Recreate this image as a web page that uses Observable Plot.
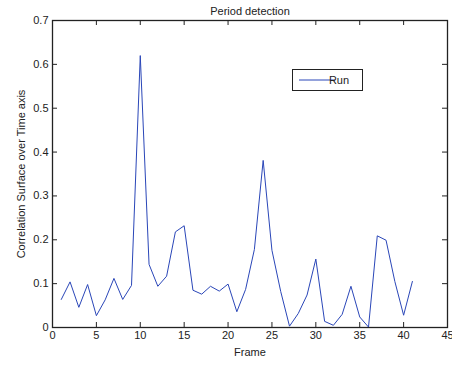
<!DOCTYPE html>
<html><head><meta charset="utf-8">
<script src="https://cdn.jsdelivr.net/npm/d3@7"></script>
<script src="https://cdn.jsdelivr.net/npm/@observablehq/plot@0.6"></script>
<style>body{margin:0;background:#fff}</style>
</head><body><div id="chart"></div>
<script>
const frames = d3.range(1, 42);
const values = [0.064,0.104,0.046,0.098,0.027,0.063,0.112,0.064,0.096,0.62,
0.144,0.094,0.117,0.218,0.232,0.085,0.076,0.094,0.083,0.099,
0.036,0.087,0.178,0.381,0.176,0.082,0.003,0.032,0.074,0.156,
0.014,0.005,0.030,0.094,0.024,0.001,0.209,0.199,0.105,0.028,0.105];
const xTicks = [0,5,10,15,20,25,30,35,40,45];
const yTicks = [0,0.1,0.2,0.3,0.4,0.5,0.6,0.7];
const yTickLabels = ["0","0.1","0.2","0.3","0.4","0.5","0.6","0.7"];
const title = "Period detection";
const xLabel = "Frame";
const yLabel = "Correlation Surface over Time axis";
const seriesName = "Run";
const data = frames.map((f,i)=>({frame:f, value:values[i]}));

const W=452,H=366,mL=52,mR=5,mT=20,mB=39;
const pw=W-mL-mR, ph=H-mT-mB;
const blue="#2a46b8";
const chart = Plot.plot({
  width:W, height:H, marginLeft:mL, marginRight:mR, marginTop:mT, marginBottom:mB,
  style:{fontFamily:"'Liberation Sans', Arial, sans-serif", fontSize:"11px", color:"#222", background:"#fff"},
  x:{domain:[0,45]},
  y:{domain:[0,0.7]},
  marks:[
    Plot.axisX({ticks:xTicks, tickSize:0, tickPadding:4, tickFormat:d=>String(d), fontSize:11, fill:"#222",
      label:xLabel, labelAnchor:"center", labelArrow:"none", labelOffset:28}),
    Plot.axisY({ticks:yTicks, tickSize:0, tickPadding:4, tickFormat:(d,i)=>yTickLabels[i], fontSize:11, fill:"#222",
      label:yLabel, labelAnchor:"center", labelArrow:"none", labelOffset:35}),
    Plot.tickX(xTicks, {x:d=>d, insetTop:ph-5, stroke:"#222"}),
    Plot.tickX(xTicks, {x:d=>d, insetBottom:ph-5, stroke:"#222"}),
    Plot.tickY(yTicks, {y:d=>d, insetRight:pw-5, stroke:"#222"}),
    Plot.tickY(yTicks, {y:d=>d, insetLeft:pw-5, stroke:"#222"}),
    Plot.frame({stroke:"#222", strokeWidth:1.3}),
    Plot.line(data, {x:"frame", y:"value", stroke:blue, strokeWidth:1}),
    Plot.text([title], {frameAnchor:"top", dy:-13, fontSize:11, fill:"#222"})
  ]
});
const svg = d3.select(chart);
const g = svg.append("g");
g.append("rect").attr("x",292.5).attr("y",69.5).attr("width",70).attr("height",21).attr("fill","#fff").attr("stroke","#222");
g.append("line").attr("x1",299).attr("x2",335).attr("y1",80).attr("y2",80).attr("stroke",blue);
g.append("text").attr("x",339).attr("y",84).attr("font-size",11).attr("fill","#222").text(seriesName);
document.getElementById("chart").append(chart);
</script></body></html>
